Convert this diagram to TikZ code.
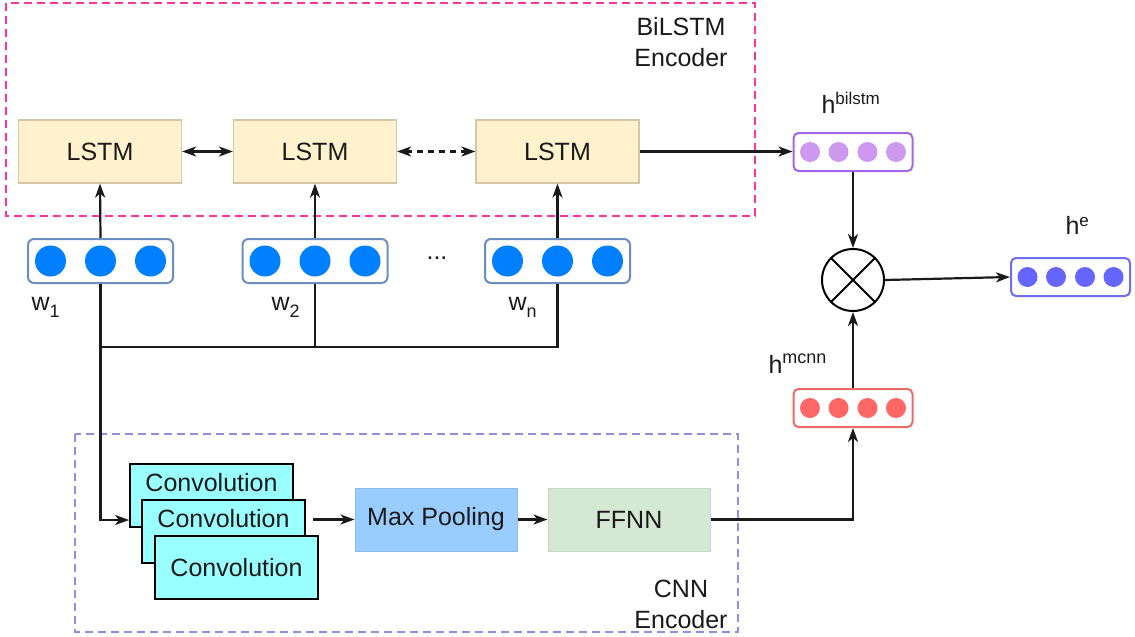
\documentclass[tikz,border=0pt]{standalone}
\usepackage{fontspec}
\setmainfont{Liberation Sans}
\usetikzlibrary{arrows.meta}

\definecolor{ink}{HTML}{1A1A1A}
\definecolor{lstmfill}{HTML}{FFF2CC}
\definecolor{lstmdraw}{HTML}{D3C7A5}
\definecolor{wordedge}{HTML}{6C8EBF}
\definecolor{worddot}{HTML}{007FFF}
\definecolor{pinkedge}{HTML}{FF3399}
\definecolor{cnnedge}{HTML}{8F8FE0}
\definecolor{convfill}{HTML}{99FFFF}
\definecolor{poolfill}{HTML}{99CCFF}
\definecolor{pooldraw}{HTML}{8DBBE8}
\definecolor{ffnnfill}{HTML}{D5E8D4}
\definecolor{ffnndraw}{HTML}{C4D8C3}
\definecolor{bilstmedge}{HTML}{A366E8}
\definecolor{bilstmdot}{HTML}{CC99EE}
\definecolor{mcnnedge}{HTML}{EA6B66}
\definecolor{mcnndot}{HTML}{FF6666}
\definecolor{outedge}{HTML}{6E6EF0}
\definecolor{outdot}{HTML}{6666FF}

\begin{document}
\begin{tikzpicture}[x=1pt,y=-1pt,
  every node/.style={font=\fontsize{25}{31}\selectfont, text=ink},
  blk/.style={rectangle, inner sep=0pt, minimum width=163pt, minimum height=63pt},
  lstm/.style={blk, fill=lstmfill, draw=lstmdraw, line width=1.2pt},
  conv/.style={blk, fill=convfill, draw=black, line width=1.8pt},
  pool/.style={blk, minimum width=162pt, fill=poolfill, draw=pooldraw, line width=1pt},
  ffnn/.style={blk, minimum width=162pt, fill=ffnnfill, draw=ffnndraw, line width=1pt},
  wordvec/.style={rectangle, rounded corners=6pt, draw=wordedge, line width=2pt,
    fill=white, minimum width=145pt, minimum height=44pt, inner sep=0pt},
  hvec/.style={rectangle, rounded corners=5pt, line width=2pt, fill=white,
    minimum width=119pt, minimum height=38pt, inner sep=0pt},
  region/.style={dash pattern=on 8pt off 5pt, line width=2pt},
  conn/.style={line width=2.2pt, draw=ink},
  arr/.style={conn, -{Stealth[length=14pt,width=10pt,inset=4pt]}},
  biarr/.style={conn, {Stealth[length=14pt,width=10pt,inset=4pt]}-{Stealth[length=14pt,width=10pt,inset=4pt]}},
]
\useasboundingbox (0,0) rectangle (1135,637);

% encoder regions
\draw[pinkedge, region] (6,3) rectangle (755,216);
\draw[cnnedge, region] (75,434) rectangle (738,632);
\node[align=center] (bilstmtitle) at (681,42) {BiLSTM\\Encoder};
\node[align=center] (cnntitle) at (681,604) {CNN\\Encoder};

% LSTM cells
\node[lstm] (L1) at (100,151.5) {LSTM};
\node[lstm] (L2) at (315,151.5) {LSTM};
\node[lstm] (L3) at (557.5,151.5) {LSTM};

% word vectors
\node[wordvec] (w1) at (100.5,261) {};
\node[wordvec] (w2) at (315,261) {};
\node[wordvec] (wn) at (557.5,261) {};
\foreach \v in {w1,w2,wn}
  \foreach \dx in {-50,0,50}
    \fill[worddot] ([xshift=\dx pt]\v.center) circle[radius=15.5pt];
\node[anchor=base west] (w1lbl) at (28,310) {w\raisebox{-7pt}{\fontsize{18}{18}\selectfont 1}};
\node[anchor=base west] (w2lbl) at (268,310) {w\raisebox{-7pt}{\fontsize{18}{18}\selectfont 2}};
\node[anchor=base west] (wnlbl) at (505,310) {w\raisebox{-7pt}{\fontsize{18}{18}\selectfont n}};
\node[anchor=base] (dots) at (437,259) {...};

% convolution stack, pooling and feed-forward layers
\node[conv] (c1) at (211.5,495.5) {};
\node (c1txt) at ([yshift=13pt]c1.center) {Convolution};
\node[conv] (c2) at (223.5,531.5) {};
\node (c2txt) at ([yshift=13pt]c2.center) {Convolution};
\node[conv] (c3) at (236.5,567.5) {Convolution};
\node[pool] (mp) at (436,519.5) {Max Pooling};
\node[ffnn] (ff) at (629,519.5) {FFNN};

% sentence-level vectors
\node[hvec, draw=bilstmedge] (hb) at (853,152) {};
\node[hvec, draw=mcnnedge] (hm) at (853,408) {};
\node[hvec, draw=outedge] (he) at (1070.5,277) {};
\foreach \dx in {-43,-14.5,14.5,43} {
  \fill[bilstmdot] ([xshift=\dx pt]hb.center) circle[radius=10pt];
  \fill[mcnndot] ([xshift=\dx pt]hm.center) circle[radius=10pt];
  \fill[outdot] ([xshift=\dx pt]he.center) circle[radius=10pt];
}
\node[anchor=base west] (hblbl) at (818,113) {h\raisebox{9pt}{\fontsize{17}{17}\selectfont bilstm}};
\node[anchor=base west] (hmlbl) at (765,373) {h\raisebox{10pt}{\fontsize{18}{18}\selectfont mcnn}};
\node[anchor=base west] (helbl) at (1062,234) {h\raisebox{8pt}{\fontsize{17}{17}\selectfont e}};

% element-wise product
\node[circle, draw=black, line width=2pt, minimum size=62pt, inner sep=0pt] (ot) at (853,280) {};
\draw[line width=2pt] (ot.north west) -- (ot.south east) (ot.north east) -- (ot.south west);

% connectors
\draw[biarr] (L1.east) -- (L2.west);
\draw[biarr, dash pattern=on 6pt off 5pt] (L2.east) -- (L3.west);
\draw[arr] (L3.east) -- (L3.east -| hb.west);
\draw[arr] (w1.north) -- (L1.south);
\draw[arr] (w2.north) -- (L2.south);
\draw[arr] (wn.north) -- (L3.south);

\coordinate (bus) at (100.5,347);
\coordinate (bend) at (100.5,520);
\draw[conn] (wn.south) -- (wn.south |- bus) -- (bus);
\draw[conn] (w2.south) -- (w2.south |- bus);
\draw[arr] (w1.south) -- (bend) -- (bend -| c1.west);

\draw[arr] ([xshift=7pt]c2.east |- mp.west) -- (mp.west);
\draw[arr] (mp.east) -- (ff.west);
\draw[arr] (ff.east) -| (hm.south);

\draw[arr] (hb.south) -- (ot.north);
\draw[arr] (hm.north) -- (ot.south);
\draw[arr] (ot.east) -- (he.west);
\end{tikzpicture}
\end{document}
